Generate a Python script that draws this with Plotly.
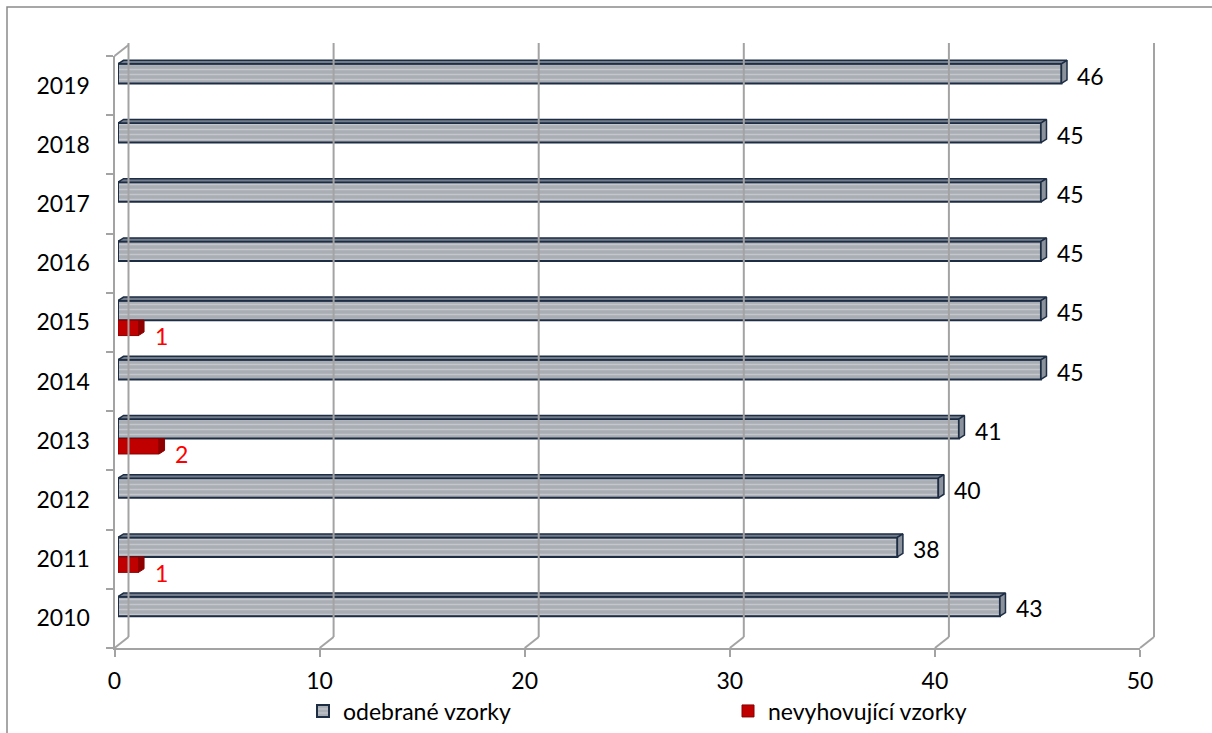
import plotly.graph_objects as go

# --- data -------------------------------------------------------------
years = ["2010", "2011", "2012", "2013", "2014", "2015", "2016", "2017", "2018", "2019"]
odebrane = [43, 38, 40, 41, 45, 45, 45, 45, 45, 46]
nevyhovujici = [None, 1, None, 2, None, 1, None, None, None, None]
x_ticks = [0, 10, 20, 30, 40, 50]

name_odebrane = "odebrané vzorky"
name_nevyhovujici = "nevyhovující vzorky"

# --- geometry (pixels of the 1212x733 canvas) ---------------------------
W, H = 1212, 733
X0_FRONT = 114.5           # x = 0 on the front plane
PX_PER_UNIT = 20.51        # horizontal scale
Y_TOP, Y_BOT = 56, 648     # category band limits on the front plane
BAR_SHIFT = (3.5, -4)      # bars sit slightly behind the front plane
WALL_SHIFT = (14, -11)     # back wall offset
WALL_TOP = 43
DEPTH_X, DEPTH_Y = 0.27, 0.06   # bar depth in data units

FONT = "Lato"
FS = 23
GRID = "#a3a3a3"
NAVY = "#1c2d44"


def fx(p):
    return p / W


def fy(p):
    return 1 - p / H


x_span = 50 * PX_PER_UNIT
idx = list(range(len(years)))

fig = go.Figure()

# helper trace so the front category axis gets its categories
fig.add_trace(go.Scatter(x=[0] * len(years), y=years, mode="markers",
                         marker=dict(opacity=0, size=1), showlegend=False,
                         hoverinfo="skip", xaxis="x", yaxis="y"))

# front faces of the bars
fig.add_trace(go.Bar(
    x=odebrane, y=idx, orientation="h", name=name_odebrane,
    offset=-0.03, width=0.33,
    marker=dict(color="#b1b4ba",
                pattern=dict(shape="-", fgcolor="#dfe1e4", bgcolor="#a9adb4",
                             size=5, solidity=0.3, fillmode="overlay"),
                line=dict(color=NAVY, width=2)),
    xaxis="x2", yaxis="y2", hoverinfo="x"))
fig.add_trace(go.Bar(
    x=nevyhovujici, y=idx, orientation="h", name=name_nevyhovujici,
    offset=-0.29, width=0.26,
    marker=dict(color="#c00000", line=dict(color="#8a0000", width=1)),
    xaxis="x2", yaxis="y2", hoverinfo="x"))

# 3-D top and end faces of the grey bars
top_x, top_y, side_x, side_y = [], [], [], []
for i, v in zip(idx, odebrane):
    t = i + 0.30
    b = i - 0.03
    top_x += [0, v, v + DEPTH_X, DEPTH_X, 0, None]
    top_y += [t, t, t + DEPTH_Y, t + DEPTH_Y, t, None]
    side_x += [v, v, v + DEPTH_X, v + DEPTH_X, v, None]
    side_y += [b, t, t + DEPTH_Y, b + DEPTH_Y, b, None]
fig.add_trace(go.Scatter(x=top_x, y=top_y, fill="toself", mode="lines",
                         fillcolor="#737c8b", line=dict(color=NAVY, width=1.5),
                         showlegend=False, hoverinfo="skip", xaxis="x2", yaxis="y2"))
fig.add_trace(go.Scatter(x=side_x, y=side_y, fill="toself", mode="lines",
                         fillcolor="#8c929c", line=dict(color=NAVY, width=1.5),
                         showlegend=False, hoverinfo="skip", xaxis="x2", yaxis="y2"))

# end faces of the red bars (top hidden behind the grey bar)
rx, ry = [], []
for i, v in zip(idx, nevyhovujici):
    if v is None:
        continue
    t = i - 0.03
    b = i - 0.29
    rx += [v, v, v + DEPTH_X, v + DEPTH_X, v, None]
    ry += [b, t, t, b + DEPTH_Y, b, None]
fig.add_trace(go.Scatter(x=rx, y=ry, fill="toself", mode="lines",
                         fillcolor="#8e0000", line=dict(color="#8e0000", width=1),
                         showlegend=False, hoverinfo="skip", xaxis="x2", yaxis="y2"))

# value labels
annotations = []
for i, v in zip(idx, odebrane):
    annotations.append(dict(x=v, y=i + 0.135, xref="x2", yref="y2", text=str(v),
                            showarrow=False, xanchor="left", yanchor="middle",
                            xshift=14, yshift=-2,
                            font=dict(family=FONT, size=FS, color="black")))
for i, v in zip(idx, nevyhovujici):
    if v is None:
        continue
    annotations.append(dict(x=v, y=i - 0.16, xref="x2", yref="y2", text=str(v),
                            showarrow=False, xanchor="left", yanchor="middle",
                            xshift=14, yshift=-8,
                            font=dict(family=FONT, size=FS, color="#ff0000")))

# back wall gridlines and their floor connectors
shapes = []
for t in x_ticks:
    xf = X0_FRONT + t * PX_PER_UNIT
    xb = xf + WALL_SHIFT[0]
    yb = Y_BOT + WALL_SHIFT[1]
    shapes.append(dict(type="line", xref="paper", yref="paper",
                       x0=fx(xb), x1=fx(xb), y0=fy(yb), y1=fy(WALL_TOP),
                       line=dict(color=GRID, width=2)))
    shapes.append(dict(type="line", xref="paper", yref="paper",
                       x0=fx(xf), x1=fx(xb), y0=fy(Y_BOT), y1=fy(yb),
                       line=dict(color=GRID, width=2)))
# connector at the top of the category axis
shapes.append(dict(type="line", xref="paper", yref="paper",
                   x0=fx(X0_FRONT), x1=fx(X0_FRONT + WALL_SHIFT[0]),
                   y0=fy(Y_TOP), y1=fy(Y_TOP + WALL_SHIFT[1]),
                   line=dict(color=GRID, width=2)))
# chart frame
shapes.append(dict(type="rect", xref="paper", yref="paper",
                   x0=fx(7), x1=1.02, y0=-0.02, y1=fy(7),
                   line=dict(color="#8a8a8a", width=1.5), layer="below"))

fig.update_layout(
    width=W, height=H,
    margin=dict(l=0, r=0, t=0, b=0, autoexpand=False),
    paper_bgcolor="white", plot_bgcolor="rgba(0,0,0,0)",
    barmode="overlay",
    font=dict(family=FONT, size=FS, color="black"),
    xaxis=dict(domain=[fx(X0_FRONT), fx(X0_FRONT + x_span)], range=[0, 50],
               anchor="y", tickvals=x_ticks, showgrid=False, zeroline=False,
               showline=True, linecolor=GRID, linewidth=2, automargin=False,
               ticks="outside", ticklen=7, tickwidth=2, tickcolor=GRID,
               ticklabelstandoff=4, fixedrange=True),
    yaxis=dict(domain=[fy(Y_BOT), fy(Y_TOP)], type="category",
               categoryorder="array", categoryarray=years, range=[-0.5, 9.5],
               anchor="x", tickson="boundaries", showgrid=False, zeroline=False,
               showline=True, linecolor=GRID, linewidth=2, automargin=False,
               ticks="outside", ticklen=7, tickwidth=2, tickcolor=GRID,
               ticklabelstandoff=18, fixedrange=True),
    xaxis2=dict(domain=[fx(X0_FRONT + BAR_SHIFT[0]), fx(X0_FRONT + BAR_SHIFT[0] + x_span)],
                range=[0, 50], anchor="y2", visible=False, fixedrange=True),
    yaxis2=dict(domain=[fy(Y_BOT + BAR_SHIFT[1]), fy(Y_TOP + BAR_SHIFT[1])],
                range=[-0.5, 9.5], anchor="x2", visible=False, fixedrange=True),
    legend=dict(orientation="h", x=fx(303), xanchor="left", y=fy(711), yanchor="middle",
                entrywidth=380, entrywidthmode="pixels", traceorder="normal",
                font=dict(family=FONT, size=FS), bgcolor="rgba(0,0,0,0)"),
    annotations=annotations,
    shapes=shapes,
    showlegend=True,
)

fig.write_html("out.html")
